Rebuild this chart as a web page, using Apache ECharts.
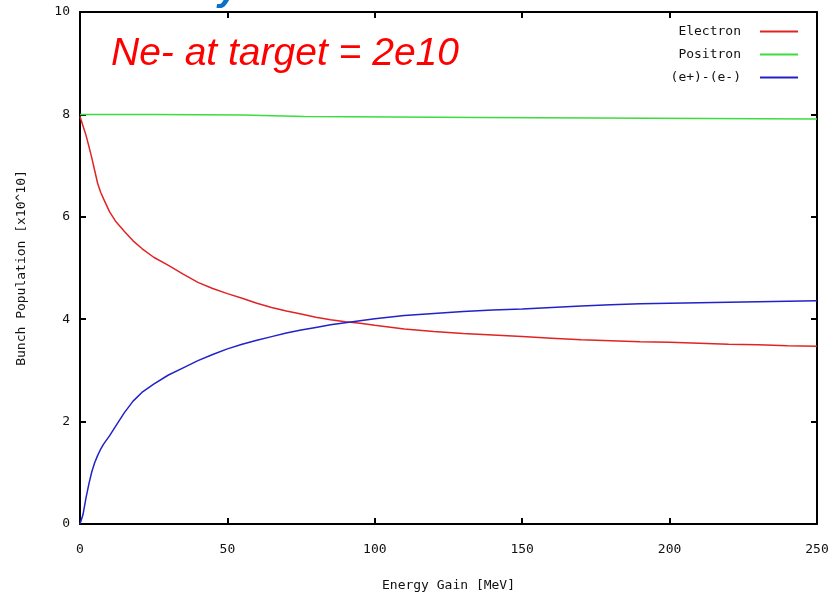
<!DOCTYPE html>
<html>
<head>
<meta charset="utf-8">
<title>Bunch Population vs Energy Gain</title>
<script src="https://cdn.jsdelivr.net/npm/echarts@6/dist/echarts.min.js"></script>
<style>
  html, body { margin: 0; padding: 0; background: #fff; }
  #chart { width: 832px; height: 597px; }
</style>
</head>
<body>
<div id="chart"></div>
<script>
// Energy gain [MeV] sample points shared by the electron and difference curves
const energyGain = [0, 1, 2, 3, 4, 5, 6, 7, 8, 10, 12, 15, 18, 21, 25, 30, 35, 40, 45, 50, 55, 60, 65, 70, 75, 80, 85, 90, 95, 100, 110, 120, 130, 140, 150, 160, 170, 180, 190, 200, 210, 220, 230, 240, 250];

// Bunch population [x10^10]
const electron = [7.96, 7.78, 7.6, 7.38, 7.15, 6.9, 6.65, 6.48, 6.35, 6.1, 5.92, 5.72, 5.53, 5.38, 5.21, 5.05, 4.88, 4.72, 4.6, 4.5, 4.41, 4.31, 4.23, 4.16, 4.1, 4.04, 3.99, 3.95, 3.92, 3.88, 3.81, 3.76, 3.72, 3.69, 3.66, 3.63, 3.6, 3.58, 3.56, 3.55, 3.53, 3.51, 3.5, 3.48, 3.47];
const difference = [0, 0.18, 0.5, 0.78, 1.02, 1.2, 1.34, 1.46, 1.56, 1.72, 1.9, 2.17, 2.4, 2.57, 2.73, 2.91, 3.05, 3.19, 3.31, 3.42, 3.51, 3.59, 3.66, 3.73, 3.79, 3.84, 3.89, 3.93, 3.97, 4.01, 4.07, 4.11, 4.15, 4.18, 4.2, 4.23, 4.26, 4.28, 4.3, 4.31, 4.32, 4.33, 4.34, 4.35, 4.36];

// Positron population changes in small steps
const positronEnergy = [0, 25, 55, 76, 136, 250];
const positron = [8.0, 7.99, 7.96, 7.94, 7.91, 7.91];

const xTicks = [0, 50, 100, 150, 200, 250];
const yTicks = [0, 2, 4, 6, 8, 10];

const seriesNames = ['Electron', 'Positron', '(e+)-(e-)'];
const seriesColors = ['#e02424', '#3cdc3c', '#2222c8'];

const mono = 'DejaVu Sans Mono';

const chart = echarts.init(document.getElementById('chart'), null, { renderer: 'canvas' });

const pairs = (xs, ys) => xs.map((x, i) => [x, ys[i]]);

const tickStyle = { show: true, inside: true, length: 6, lineStyle: { color: '#000', width: 2 } };

chart.setOption({
  animation: false,
  backgroundColor: '#fff',
  textStyle: { fontFamily: mono },
  grid: { left: 80, right: 15, top: 12, bottom: 73, containLabel: false, outerBoundsMode: 'none' },
  legend: {
    orient: 'vertical',
    right: 29,
    top: 20,
    align: 'right',
    itemGap: 10,
    itemWidth: 38,
    itemHeight: 2,
    icon: 'rect',
    textStyle: { fontFamily: mono, fontSize: 13, color: '#111', width: 66, align: 'left', padding: [0, 14, 0, 0] },
    data: seriesNames
  },
  xAxis: [
    {
      type: 'value', position: 'bottom', min: 0, max: 250, interval: 50,
      name: 'Energy Gain [MeV]', nameLocation: 'middle', nameGap: 55,
      nameTextStyle: { fontFamily: mono, fontSize: 13, color: '#111' },
      axisLine: { show: true, onZero: false, lineStyle: { color: '#000', width: 2 } },
      axisTick: tickStyle,
      axisLabel: {
        fontFamily: mono, fontSize: 13, color: '#111', margin: 19,
        formatter: v => (xTicks.includes(v) ? String(v) : '')
      },
      splitLine: { show: false }
    },
    {
      type: 'value', position: 'top', min: 0, max: 250, interval: 50,
      axisLine: { show: true, onZero: false, lineStyle: { color: '#000', width: 2 } },
      axisTick: tickStyle,
      axisLabel: { show: false },
      splitLine: { show: false }
    }
  ],
  yAxis: [
    {
      type: 'value', position: 'left', min: 0, max: 10, interval: 2,
      name: 'Bunch Population [x10^10]', nameLocation: 'middle', nameGap: 52, nameRotate: 90,
      nameTextStyle: { fontFamily: mono, fontSize: 13, color: '#111' },
      axisLine: { show: true, onZero: false, lineStyle: { color: '#000', width: 2 } },
      axisTick: tickStyle,
      axisLabel: {
        fontFamily: mono, fontSize: 13, color: '#111', margin: 10,
        formatter: v => (yTicks.includes(v) ? String(v) : '')
      },
      splitLine: { show: false }
    },
    {
      type: 'value', position: 'right', min: 0, max: 10, interval: 2,
      axisLine: { show: true, onZero: false, lineStyle: { color: '#000', width: 2 } },
      axisTick: tickStyle,
      axisLabel: { show: false },
      splitLine: { show: false }
    }
  ],
  series: [
    {
      name: seriesNames[0], type: 'line', showSymbol: false, symbol: 'none',
      color: seriesColors[0], lineStyle: { width: 1.5, color: seriesColors[0] },
      data: pairs(energyGain, electron), z: 3
    },
    {
      name: seriesNames[1], type: 'line', showSymbol: false, symbol: 'none', step: 'end',
      color: seriesColors[1], lineStyle: { width: 1.5, color: seriesColors[1] },
      data: pairs(positronEnergy, positron), z: 3
    },
    {
      name: seriesNames[2], type: 'line', showSymbol: false, symbol: 'none',
      color: seriesColors[2], lineStyle: { width: 1.5, color: seriesColors[2] },
      data: pairs(energyGain, difference), z: 3
    }
  ],
  graphic: [
    {
      type: 'text', left: 111, top: 35, z: 10,
      style: {
        text: 'Ne- at target = 2e10',
        fill: '#ff0000',
        font: 'italic 39px "Liberation Sans", Arial, sans-serif'
      }
    },
    {
      type: 'text', left: 218, top: -29, z: 10,
      style: {
        text: 'y',
        fill: '#0a70c8',
        font: 'bold italic 38px "Liberation Sans", Arial, sans-serif'
      }
    }
  ]
});
</script>
</body>
</html>
